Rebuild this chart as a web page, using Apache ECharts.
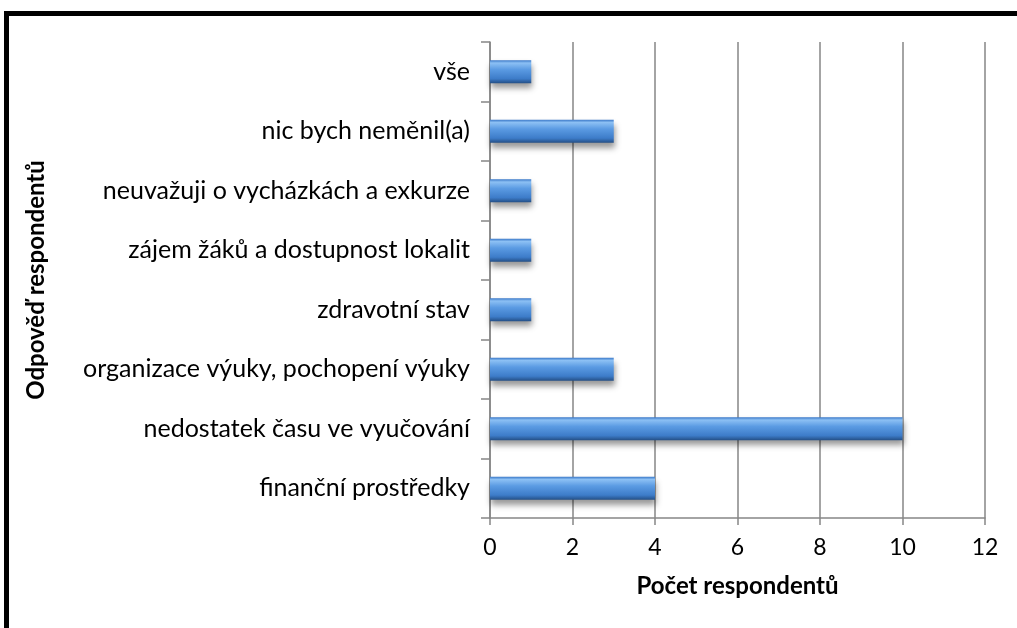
<!DOCTYPE html>
<html>
<head>
<meta charset="utf-8">
<script src="https://cdn.jsdelivr.net/npm/echarts@6/dist/echarts.min.js"></script>
<style>
body { margin: 0; background: #fff; }
#chart { width: 1017px; height: 628px; }
</style>
</head>
<body>
<div id="chart"></div>
<script>
// categories listed bottom -> top
const categories = [
    'finanční prostředky',
    'nedostatek času ve vyučování',
    'organizace výuky, pochopení výuky',
    'zdravotní stav',
    'zájem žáků a dostupnost lokalit',
    'neuvažuji o vycházkách a exkurze',
    'nic bych neměnil(a)',
    'vše'
]
const counts = [4, 10, 3, 1, 1, 1, 3, 1]
const xTicks = [0, 2, 4, 6, 8, 10, 12]

const myChart = echarts.init(document.getElementById('chart'))
const font = 'Lato, "Open Sans", sans-serif'

const option = {
    animation: false,
    textStyle: { fontFamily: font },
    graphic: [{
        type: 'rect',
        shape: { x: 6.5, y: 13.5, width: 1100, height: 700 },
        style: { fill: 'none', stroke: '#000', lineWidth: 5 },
        silent: true
    }],
    grid: { left: 490, right: 32, top: 42, bottom: 110 },
    xAxis: {
        type: 'value',
        min: xTicks[0],
        max: xTicks[xTicks.length - 1],
        interval: 2,
        name: 'Počet respondentů',
        nameLocation: 'middle',
        nameGap: 56,
        nameTextStyle: { fontSize: 24, fontWeight: 'bold', color: '#000', fontFamily: font },
        axisLine: { show: true, lineStyle: { color: '#868686', width: 1.5 } },
        axisTick: { show: true, length: 7, lineStyle: { color: '#868686', width: 1.5 } },
        axisLabel: { fontSize: 23, color: '#000', margin: 18, fontFamily: font },
        splitLine: { show: true, lineStyle: { color: '#868686', width: 1.5 } }
    },
    yAxis: {
        type: 'category',
        data: categories,
        name: 'Odpověď respondentů',
        nameLocation: 'middle',
        nameGap: 442,
        nameRotate: 90,
        nameTextStyle: { fontSize: 24, fontWeight: 'bold', color: '#000', fontFamily: font },
        axisLine: { show: true, lineStyle: { color: '#868686', width: 1.5 } },
        axisTick: { show: true, length: 9, lineStyle: { color: '#868686', width: 1.5 } },
        axisLabel: { fontSize: 25, color: '#000', margin: 20, fontFamily: font },
        splitLine: { show: false }
    },
    series: [{
        type: 'bar',
        data: counts,
        barWidth: 23,
        itemStyle: {
            color: new echarts.graphic.LinearGradient(0, 0, 0, 1, [
                { offset: 0, color: '#3a78c8' },
                { offset: 0.12, color: '#8cc0f4' },
                { offset: 0.4, color: '#5b9be3' },
                { offset: 0.8, color: '#3d7cc9' },
                { offset: 1, color: '#244f86' }
            ]),
            shadowColor: 'rgba(0,0,0,0.4)',
            shadowBlur: 6,
            shadowOffsetY: 5,
            shadowOffsetX: 1
        }
    }]
}
myChart.setOption(option)
</script>
</body>
</html>
